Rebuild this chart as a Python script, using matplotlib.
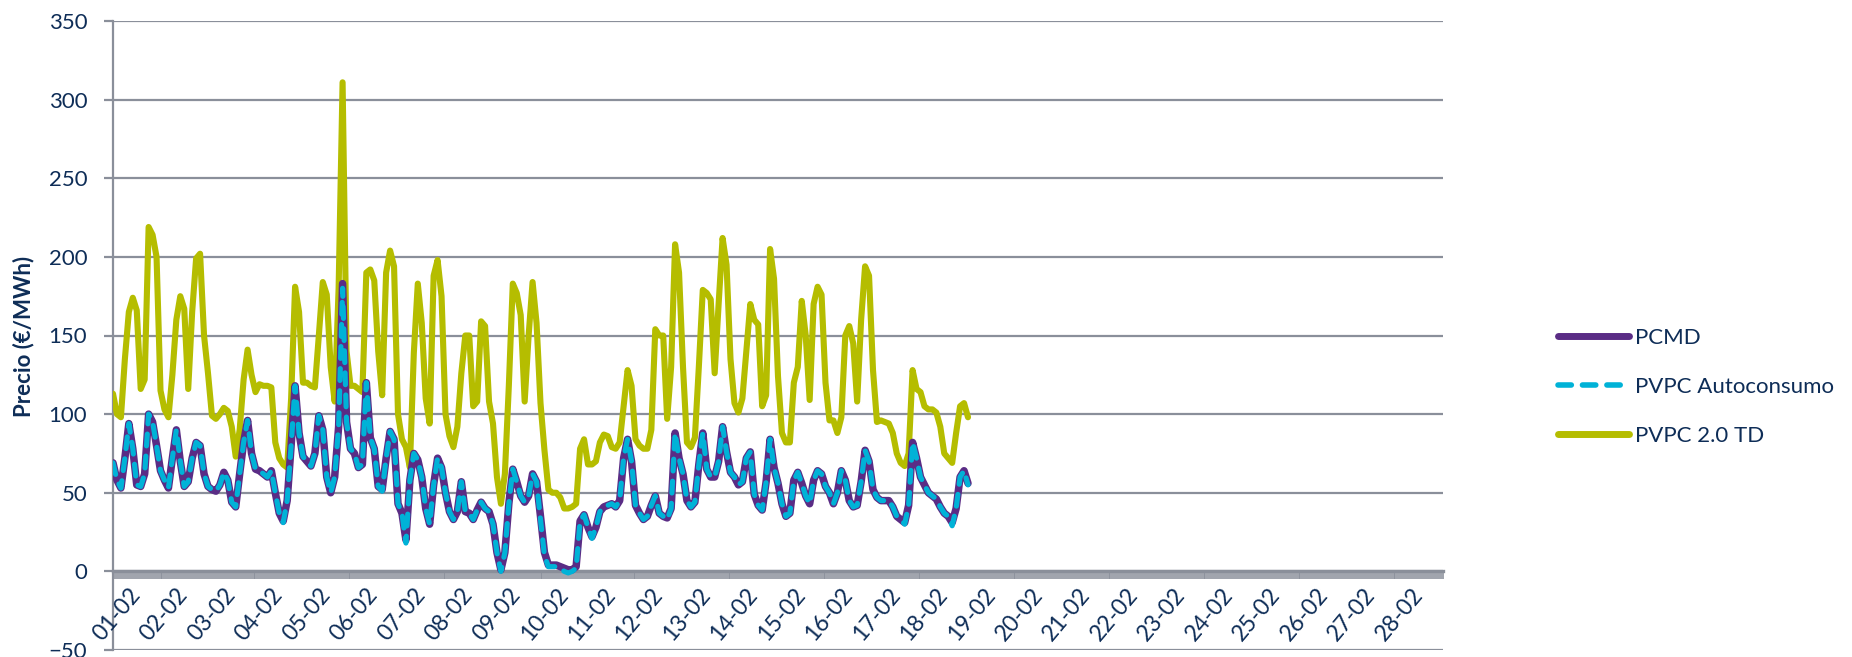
import matplotlib
matplotlib.use('Agg')
import matplotlib.pyplot as plt
from matplotlib.lines import Line2D
import numpy as np

plt.rcParams['font.family'] = ['Lato', 'DejaVu Sans']

# ---- data (sampled every 2 hours, starting 01-02 00:00) ----
day_labels = ["01-02", "02-02", "03-02", "04-02", "05-02", "06-02", "07-02",
              "08-02", "09-02", "10-02", "11-02", "12-02", "13-02", "14-02",
              "15-02", "16-02", "17-02", "18-02", "19-02", "20-02", "21-02",
              "22-02", "23-02", "24-02", "25-02", "26-02", "27-02", "28-02"]

pcmd = [
    69, 58, 53, 72, 94, 78, 55, 54, 62, 100, 95, 80,
    64, 58, 53, 72, 90, 70, 54, 57, 72, 82, 80, 62,
    54, 52, 51, 55, 63, 58, 44, 41, 62, 82, 96, 75,
    65, 64, 62, 60, 64, 50, 37, 32, 45, 80, 118, 88,
    73, 70, 67, 75, 99, 90, 60, 50, 60, 92, 183, 95,
    78, 75, 66, 68, 120, 85, 78, 54, 52, 72, 89, 84,
    43, 37, 20, 58, 75, 71, 60, 40, 30, 55, 72, 66,
    50, 38, 33, 38, 57, 38, 37, 33, 39, 44, 40, 38,
    30, 12, 1, 12, 43, 65, 57, 48, 44, 48, 62, 57,
    35, 12, 4, 4, 4, 3, 2, 1, 1, 3, 32, 36,
    28, 22, 28, 38, 41, 42, 43, 41, 45, 72, 84, 70,
    42, 37, 33, 35, 42, 48, 37, 35, 34, 40, 88, 72,
    62, 45, 41, 44, 68, 88, 65, 60, 60, 70, 92, 76,
    63, 60, 55, 57, 72, 76, 49, 42, 39, 57, 84, 66,
    56, 43, 35, 37, 58, 63, 56, 48, 43, 58, 64, 62,
    54, 50, 43, 50, 64, 58, 45, 41, 42, 57, 77, 70,
    52, 47, 45, 45, 45, 41, 35, 33, 31, 42, 82, 72,
    60, 55, 50, 48, 46, 41, 37, 35, 31, 40, 60, 64,
    56]

pvpc_autoconsumo = [
    69, 58, 53, 72, 94, 78, 55, 54, 62, 100, 95, 80,
    64, 58, 53, 72, 90, 70, 54, 57, 72, 82, 80, 62,
    54, 52, 51, 55, 63, 58, 44, 41, 62, 82, 96, 75,
    65, 64, 62, 60, 64, 50, 37, 31, 45, 80, 118, 88,
    73, 70, 67, 75, 99, 90, 60, 50, 60, 92, 180, 95,
    78, 75, 66, 68, 120, 85, 78, 54, 51, 72, 89, 84,
    43, 37, 18, 58, 75, 71, 60, 40, 30, 55, 72, 66,
    50, 38, 33, 38, 57, 38, 37, 33, 39, 44, 40, 38,
    30, 12, 0, 12, 43, 65, 57, 48, 44, 48, 62, 57,
    33, 10, 3, 3, 3, 2, 0, -1, 0, 2, 32, 36,
    28, 21, 28, 38, 41, 42, 43, 41, 45, 72, 84, 70,
    42, 37, 33, 35, 42, 48, 37, 35, 33, 40, 88, 72,
    62, 45, 41, 44, 68, 88, 65, 60, 60, 70, 92, 76,
    63, 60, 55, 57, 72, 76, 49, 42, 39, 57, 84, 66,
    56, 43, 35, 37, 58, 63, 56, 48, 43, 58, 64, 62,
    54, 50, 43, 50, 64, 58, 45, 41, 42, 57, 77, 70,
    52, 47, 45, 45, 45, 41, 35, 33, 30, 42, 82, 72,
    60, 55, 50, 48, 46, 41, 37, 35, 29, 40, 60, 64,
    55]

pvpc_20td = [
    113, 100, 98, 135, 165, 174, 166, 116, 122, 219, 214, 200,
    115, 103, 98, 125, 160, 175, 167, 116, 165, 199, 202, 150,
    126, 99, 97, 100, 104, 102, 92, 73, 90, 122, 141, 125,
    114, 119, 118, 118, 117, 82, 72, 68, 66, 110, 181, 165,
    120, 120, 118, 117, 150, 184, 176, 130, 108, 180, 311, 140,
    118, 118, 116, 114, 190, 192, 185, 140, 112, 190, 204, 194,
    100, 84, 79, 66, 139, 183, 158, 110, 94, 188, 198, 175,
    100, 86, 79, 92, 126, 150, 150, 105, 108, 159, 156, 108,
    94, 60, 43, 62, 118, 183, 177, 163, 108, 150, 184, 158,
    107, 77, 52, 50, 50, 47, 40, 40, 41, 43, 78, 84,
    68, 68, 70, 82, 87, 86, 79, 78, 82, 105, 128, 118,
    84, 80, 78, 78, 90, 154, 150, 150, 97, 130, 208, 190,
    130, 82, 79, 85, 130, 179, 177, 173, 126, 170, 212, 195,
    135, 107, 101, 110, 140, 170, 160, 157, 105, 112, 205, 186,
    124, 88, 82, 82, 120, 130, 172, 150, 109, 170, 181, 176,
    120, 96, 96, 88, 98, 150, 156, 145, 108, 160, 194, 188,
    128, 95, 96, 95, 94, 88, 75, 69, 67, 75, 128, 116,
    114, 105, 103, 103, 101, 92, 75, 72, 69, 88, 105, 107,
    98]

series_names = ["PCMD", "PVPC Autoconsumo", "PVPC 2.0 TD"]
y_label = "Precio (€/MWh)"

HOURS_PER_SAMPLE = 2
HOURS_PER_DAY = 24

# ---- style ----
navy = '#0e2d57'
grid_c = '#8a8f9a'
c_pcmd = '#5a2c85'
c_auto = '#00b2d7'
c_td = '#b5bd00'
fs = 16

fig = plt.figure(figsize=(18.52, 6.57), dpi=100)
ax = fig.add_axes([113 / 1852, 1 - 650 / 657, (1443 - 113) / 1852, (650 - 21) / 657])

n_days = len(day_labels)
ax.set_xlim(0, n_days * HOURS_PER_DAY)
ax.set_ylim(-50, 350)
ax.set_yticks(np.arange(-50, 351, 50))
ax.yaxis.grid(True, color=grid_c, lw=1.6)
ax.set_axisbelow(True)

for s in ['top', 'right']:
    ax.spines[s].set_visible(False)
ax.spines['left'].set_color(grid_c)
ax.spines['left'].set_linewidth(1.6)
ax.spines['bottom'].set_position(('data', 0))
ax.spines['bottom'].set_color(grid_c)
ax.spines['bottom'].set_linewidth(2.4)

# hourly tick marks forming the dense band on the zero line
ax.set_xticks(np.arange(0, n_days * HOURS_PER_DAY + 1, 1))
ax.set_xticklabels([])
ax.tick_params(axis='x', which='major', length=6, width=1.15, color=grid_c, direction='out')
ax.tick_params(axis='y', length=6.5, width=1.6, color=grid_c, pad=12,
               labelsize=fs, labelcolor=navy)

# day labels, rotated, just below the zero line
for i, lab in enumerate(day_labels):
    ax.annotate(lab, xy=(i * HOURS_PER_DAY + HOURS_PER_DAY / 2, 0), xycoords='data',
                xytext=(-6, -9), textcoords='offset points', rotation=50,
                ha='right', va='top', rotation_mode='anchor', fontsize=fs + 0.5,
                color=navy, annotation_clip=False)

x_td = np.arange(len(pvpc_20td)) * HOURS_PER_SAMPLE
x_p = np.arange(len(pcmd)) * HOURS_PER_SAMPLE
x_a = np.arange(len(pvpc_autoconsumo)) * HOURS_PER_SAMPLE

ax.plot(x_td, pvpc_20td, color=c_td, lw=4.4, solid_capstyle='round',
        solid_joinstyle='round', zorder=3)
ax.plot(x_p, pcmd, color=c_pcmd, lw=5.4, solid_capstyle='round',
        solid_joinstyle='round', zorder=4)
ax.plot(x_a, pvpc_autoconsumo, color=c_auto, lw=3.7, linestyle=(0, (2.3, 2.0)),
        dash_capstyle='round', dash_joinstyle='round', zorder=5)

handles = [Line2D([], [], color=c_pcmd, lw=5, solid_capstyle='round'),
           Line2D([], [], color=c_auto, lw=4, linestyle=(0, (2.4, 2.0)), dash_capstyle='round'),
           Line2D([], [], color=c_td, lw=5, solid_capstyle='round')]
leg = ax.legend(handles, series_names, loc='upper left',
                bbox_to_anchor=(1558 / 1852, 1 - 328 / 657), bbox_transform=fig.transFigure,
                frameon=False, fontsize=fs, handlelength=3.2, handletextpad=0.25,
                labelspacing=1.3, borderpad=0, borderaxespad=0)
for t in leg.get_texts():
    t.set_color(navy)

fig.text(24 / 1852, 1 - 336 / 657, y_label, rotation=90, ha='center', va='center',
         fontsize=fs, fontweight='bold', color=navy)

fig.savefig('out.png', dpi=100)
